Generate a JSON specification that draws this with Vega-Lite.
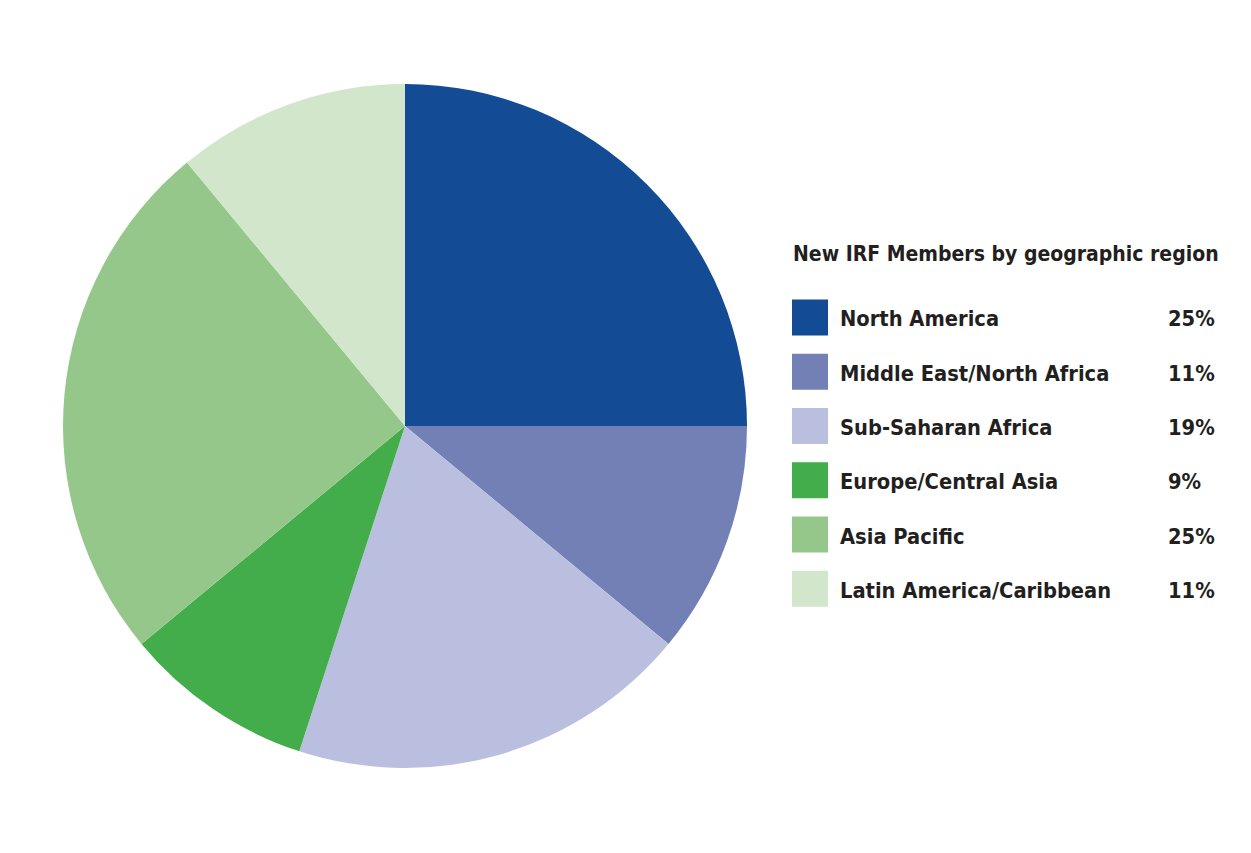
{
  "$schema": "https://vega.github.io/schema/vega-lite/v6.json",
  "padding": {"left": 63, "top": 84, "right": 0, "bottom": 0},
  "background": "white",
  "config": {
    "view": {"stroke": null},
    "text": {"font": "DejaVu Sans Condensed", "fontWeight": "bold", "color": "#231F20"}
  },
  "data": {
    "values": [
      {"region": "North America", "share": 25, "order": 1},
      {"region": "Middle East/North Africa", "share": 11, "order": 2},
      {"region": "Sub-Saharan Africa", "share": 19, "order": 3},
      {"region": "Europe/Central Asia", "share": 9, "order": 4},
      {"region": "Asia Pacific", "share": 25, "order": 5},
      {"region": "Latin America/Caribbean", "share": 11, "order": 6}
    ]
  },
  "hconcat": [
    {
      "width": 684,
      "height": 684,
      "mark": {"type": "arc", "outerRadius": 342, "stroke": null},
      "encoding": {
        "theta": {"field": "share", "type": "quantitative", "stack": true},
        "order": {"field": "order", "type": "quantitative"},
        "color": {
          "field": "region",
          "type": "nominal",
          "scale": {
            "domain": ["North America", "Middle East/North Africa", "Sub-Saharan Africa", "Europe/Central Asia", "Asia Pacific", "Latin America/Caribbean"],
            "range": ["#134B94", "#7280B6", "#BBBFDF", "#42AD4A", "#95C78A", "#D1E6CB"]
          },
          "legend": null
        }
      }
    },
    {
      "width": 430,
      "height": 380,
      "encoding": {
        "y": {
          "field": "region",
          "type": "nominal",
          "axis": null,
          "scale": {
            "type": "point",
            "padding": 0.5,
            "domain": [" ", "North America", "Middle East/North Africa", "Sub-Saharan Africa", "Europe/Central Asia", "Asia Pacific", "Latin America/Caribbean"]
          }
        }
      },
      "layer": [
        {
          "mark": {"type": "square", "size": 1296, "opacity": 1, "filled": true},
          "encoding": {
            "x": {"value": 18},
            "color": {
              "field": "region",
              "type": "nominal",
              "scale": {
                "domain": ["North America", "Middle East/North Africa", "Sub-Saharan Africa", "Europe/Central Asia", "Asia Pacific", "Latin America/Caribbean"],
                "range": ["#134B94", "#7280B6", "#BBBFDF", "#42AD4A", "#95C78A", "#D1E6CB"]
              },
              "legend": null
            }
          }
        },
        {
          "mark": {"type": "text", "align": "left", "baseline": "middle", "fontSize": 21.7, "dy": 2},
          "encoding": {
            "x": {"value": 48},
            "text": {"field": "region"}
          }
        },
        {
          "transform": [{"calculate": "datum.share + '%'", "as": "share_label"}],
          "mark": {"type": "text", "align": "left", "baseline": "middle", "fontSize": 21.7, "dy": 2},
          "encoding": {
            "x": {"value": 376},
            "text": {"field": "share_label"}
          }
        },
        {
          "data": {"values": [{"region": " ", "label": "New IRF Members by geographic region"}]},
          "mark": {"type": "text", "align": "left", "baseline": "middle", "fontSize": 21, "dy": -8},
          "encoding": {
            "x": {"value": 1},
            "text": {"field": "label"}
          }
        }
      ]
    }
  ],
  "spacing": 45,
  "center": true
}
